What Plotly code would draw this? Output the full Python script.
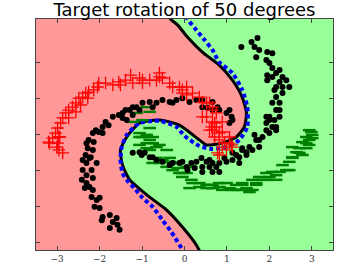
import plotly.graph_objects as go

# ---- data ----
red_x = [-1.27,-1.39,-1.55,-1.69,-1.86,-2.02,-2.05,-2.26,-2.33,-2.40,-2.49,-2.56,-2.64,-2.73,-2.80,-2.87,-2.92,-2.99,-3.04,-3.11,-3.20,-2.99,-2.96,-2.87,-2.28,-2.56,-2.73,-2.96,-1.51,-2.14,-2.45,-3.18,-3.01,-2.94,-0.99,-0.66,-0.52,-0.28,-0.05,0.05,-1.06,-0.82,-0.59,-0.35,-0.12,0.05,-0.05,0.19,0.35,0.42,0.59,0.66,0.52,0.66,0.75,0.59,0.71,-0.59,-0.99,-1.22,0.52,0.66,0.42,0.75,0.71,0.89,0.66,0.89,1.06,0.82,1.06,1.13,0.89,0.82,0.99,0.64,0.82,0.94,1.11,0.78]
red_y = [1.65,1.51,1.46,1.38,1.43,1.43,1.32,1.18,1.15,1.04,1.01,0.88,0.76,0.68,0.60,0.46,0.32,0.18,0.04,-0.10,-0.21,-0.24,-0.43,-0.51,1.01,0.63,0.46,-0.07,1.38,1.24,0.82,-0.24,-0.35,-0.07,1.51,1.51,1.57,1.32,1.24,1.10,1.57,1.51,1.60,1.43,1.32,1.32,1.15,1.15,1.04,0.90,0.88,0.68,0.49,0.35,0.21,0.12,-0.07,1.71,1.43,1.43,0.88,0.76,0.49,0.60,0.32,0.35,0.12,0.07,-0.07,-0.15,-0.24,-0.35,-0.35,-0.57,-0.43,0.21,0.04,-0.24,-0.29,-0.51]

green_x = [-0.05,0.19,0.12,0.35,0.52,0.66,0.82,0.89,1.06,1.22,1.36,1.46,1.60,1.69,1.84,2.00,2.16,2.24,2.40,2.31,2.47,2.54,2.64,2.71,2.87,2.87,2.94,3.01,2.99,2.16,1.93,2.54,2.94,2.87,3.01,2.78,2.94,2.71,2.78,2.54,2.47,2.07,1.76,1.60,1.93,1.36,1.69,1.22,0.99,0.82,0.66,0.52,1.36,1.53,1.13,-1.06,-0.89,-0.75,-0.89,-0.75,-0.59,-1.06,-0.82,-0.66,-0.59,-0.42,-0.28,-0.12,0.05,-0.05,0.16,0.05,-0.35,-0.52,-0.16,-0.75,0.35,-0.89,-1.13,-0.82,-1.22,-0.99,-0.82,-0.99,-0.82,-0.66,-0.89,-1.06,-0.42,-0.35,-0.19]
green_y = [-1.07,-1.35,-1.49,-1.46,-1.49,-1.40,-1.35,-1.54,-1.49,-1.54,-1.40,-1.49,-1.54,-1.35,-1.26,-1.18,-1.13,-1.04,-0.99,-0.85,-0.76,-0.63,-0.49,-0.51,-0.38,-0.24,-0.15,-0.01,0.07,-1.26,-1.07,-0.35,0.12,-0.07,-0.10,-0.21,-0.29,-0.38,-0.57,-0.65,-0.99,-1.04,-1.18,-1.26,-1.26,-1.35,-1.40,-1.40,-1.35,-1.46,-1.49,-1.40,-1.54,-1.60,-1.54,-0.07,-0.01,-0.07,-0.24,-0.24,-0.29,-0.29,-0.43,-0.65,-0.79,-0.90,-0.99,-1.07,-1.07,-1.18,-1.26,-0.90,-0.76,-0.71,-0.93,-0.79,-1.35,0.76,0.60,0.63,0.35,0.40,0.18,-0.07,-0.15,-0.35,-0.38,0.04,-0.43,-0.65,-0.79]

target_x = [1.34,1.58,1.72,1.65,1.76,1.69,1.95,2.07,1.93,2.00,2.07,2.24,2.16,2.31,2.24,2.40,2.47,2.16,2.12,2.31,2.16,2.24,2.16,2.24,2.00,2.12,2.16,1.93,1.95,2.07,1.95,2.31,2.07,2.24,2.00,2.07,1.93,1.84,1.69,1.53,1.36,1.22,1.93,2.16,1.76,1.65,2.00,1.76,1.60,1.46,1.29,1.13,0.99,1.46,1.36,1.13,0.94,1.29,
            -1.22,-1.06,-0.94,-0.82,-0.66,-0.52,-0.35,-0.28,-0.12,-0.05,0.05,0.16,0.28,0.40,0.24,0.42,0.59,0.59,0.07,-0.75,-1.01,0.42,0.66,0.75,0.82,0.66,0.82,0.52,
            -1.46,-1.29,-1.13,-0.99,-0.82,-0.66,-0.52,-0.35,-0.19,-0.05,0.12,0.28,0.42,0.54,0.66,0.42,-1.22,-1.36,-0.75,-1.06,-0.28,0.66,0.82,0.99,1.06,1.11,1.13,1.06,0.78,
            -1.22,-1.39,-1.55,-1.69,-1.86,-1.93,-2.09,-2.16,-2.02,-2.26,-2.14,-2.28,-2.16,-2.33,-2.21,-1.46,-1.79,-1.93,-2.31,-2.40,-2.24,-2.31,-2.07,-2.42,-2.31,-2.24,-2.16,-2.35,-2.19,-2.07,-2.00,-2.12,-2.00,-1.93,-1.76,-1.95,-1.69,-1.76,-1.58,-1.53,-1.60,-2.40,-2.19,-2.31,-2.16]
target_y = [2.43,2.57,2.68,2.43,2.35,2.15,2.29,2.26,2.07,1.99,1.85,1.79,1.71,1.60,1.46,1.51,1.32,1.32,1.24,1.15,1.04,0.88,0.68,0.49,0.40,0.40,0.21,0.49,1.51,1.60,1.65,1.32,0.88,0.68,0.49,0.21,0.12,-0.07,-0.15,-0.35,-0.43,-0.57,0.32,0.12,-0.15,-0.01,0.04,-0.35,-0.43,-0.57,-0.63,-0.71,-0.76,-0.49,-0.38,-0.51,-0.65,-0.79,
            -0.51,-0.49,-0.51,-0.63,-0.71,-0.76,-0.85,-0.79,-0.79,-0.76,-0.90,-0.79,-0.76,-0.65,-0.93,-0.90,-0.90,-0.71,-0.99,-0.63,-0.57,-1.04,-0.79,-0.90,-1.04,-1.04,-0.79,-0.76,
            0.60,0.68,0.76,0.88,0.90,0.88,0.96,0.90,0.96,1.01,0.90,0.96,0.76,0.74,0.68,0.96,0.54,0.40,0.76,0.68,0.88,0.90,0.68,0.60,0.68,0.49,0.40,0.32,0.76,
            0.76,0.68,0.54,0.49,0.35,0.21,0.12,0.04,0.07,-0.15,-0.21,-0.38,-0.43,-0.57,-0.63,0.46,0.26,0.04,-0.24,-0.71,-0.65,-0.79,-0.79,-1.26,-1.35,-1.46,-1.54,-1.49,-1.74,-1.82,-1.76,-2.01,-2.04,-2.29,-2.24,-2.38,-2.43,-2.60,-2.51,-2.65,-2.32,-0.99,-0.99,-1.13,-1.21]

# decision boundary (solid black) and second boundary (blue dotted)
bnd_x = [-0.36,-0.33,-0.16,0.09,0.42,0.82,1.13,1.36,1.46,1.41,1.22,0.89,0.52,0.35,-0.12,-0.59,-1.06,-1.36,-1.51,-1.46,-1.29,-0.82,-0.42,-0.05,0.28,0.38]
bnd_y = [3.30,3.21,3.04,2.68,2.29,1.93,1.51,1.04,0.60,0.21,-0.07,-0.24,-0.29,-0.15,0.26,0.40,0.32,-0.07,-0.43,-0.85,-1.26,-1.74,-2.10,-2.57,-3.07,-3.30]
alt_x = [0.05,0.07,0.24,0.47,0.66,0.82,1.13,1.36,1.48,1.48,1.29,0.99,0.64,0.35,0.00,-0.19,-0.59,-1.06,-1.36,-1.48,-1.51,-1.46,-1.34,-1.18,-0.99,-0.75,-0.52,-0.31,-0.05,-0.03]
alt_y = [3.30,3.21,2.96,2.63,2.35,2.01,1.71,1.24,0.76,0.21,-0.15,-0.35,-0.40,-0.32,-0.04,0.21,0.38,0.32,-0.01,-0.35,-0.71,-1.07,-1.29,-1.49,-1.76,-2.01,-2.38,-2.71,-3.21,-3.30]

x_ticks = [-3, -2, -1, 0, 1, 2, 3]
x_ticklabels = ["\u22123", "\u22122", "\u22121", "0", "1", "2", "3"]
y_ticks = [-3, -2, -1, 0, 1, 2]

XR = [-3.5, 3.5]
YR = [-3.21, 3.21]

fig = go.Figure()

# red class region: left of the boundary
fig.add_trace(go.Scatter(
    x=[XR[0] - 0.5] + bnd_x + [XR[0] - 0.5],
    y=[YR[1] + 0.5] + bnd_y + [YR[0] - 0.5],
    mode="lines", fill="toself", fillcolor="#ff9999",
    line=dict(width=0, color="#ff9999", shape="spline", smoothing=0.6),
    hoverinfo="skip", showlegend=False))

fig.add_trace(go.Scatter(x=bnd_x, y=bnd_y, mode="lines",
                         line=dict(color="black", width=3, shape="spline", smoothing=0.6),
                         showlegend=False))
fig.add_trace(go.Scatter(x=alt_x, y=alt_y, mode="lines",
                         line=dict(color="#0000ff", width=4, dash="4px,3px", shape="spline", smoothing=0.6),
                         showlegend=False))

fig.add_trace(go.Scatter(x=green_x, y=green_y, mode="markers",
                         marker=dict(symbol="line-ew", size=9, color="#008000",
                                     line=dict(color="#008000", width=2.5)),
                         showlegend=False, cliponaxis=True))
fig.add_trace(go.Scatter(x=target_x, y=target_y, mode="markers",
                         marker=dict(symbol="circle", size=6, color="black", line=dict(width=0)),
                         showlegend=False, cliponaxis=True))
fig.add_trace(go.Scatter(x=red_x, y=red_y, mode="markers",
                         marker=dict(symbol="cross-thin", size=9, color="#ff0000",
                                     line=dict(color="#ff0000", width=1.3)),
                         showlegend=False, cliponaxis=True))

axis_common = dict(showgrid=False, zeroline=False, showline=True, linecolor="#444444",
                   linewidth=1, mirror="allticks", ticks="inside", ticklen=4,
                   tickcolor="#444444", tickwidth=1, automargin=False)

fig.update_layout(
    width=359, height=272,
    margin=dict(l=36, r=26, t=19, b=22, autoexpand=False),
    paper_bgcolor="white", plot_bgcolor="#99ff99",
    title=dict(text="Target rotation of 50 degrees", x=0.514, xanchor="center",
               y=0.988, yanchor="top", automargin=False,
               font=dict(family="DejaVu Sans", size=18, color="black")),
    xaxis=dict(range=XR, tickvals=x_ticks, ticktext=x_ticklabels,
               tickfont=dict(family="DejaVu Serif", size=9, color="#333333"), **axis_common),
    yaxis=dict(range=YR, tickvals=y_ticks, showticklabels=False, **axis_common),
)

# remove the page's default body margin so the figure sits at the top-left corner
fig.write_html("out.html", config={"displayModeBar": False},
               post_script="document.body.style.margin='0';document.body.style.overflow='hidden';")
